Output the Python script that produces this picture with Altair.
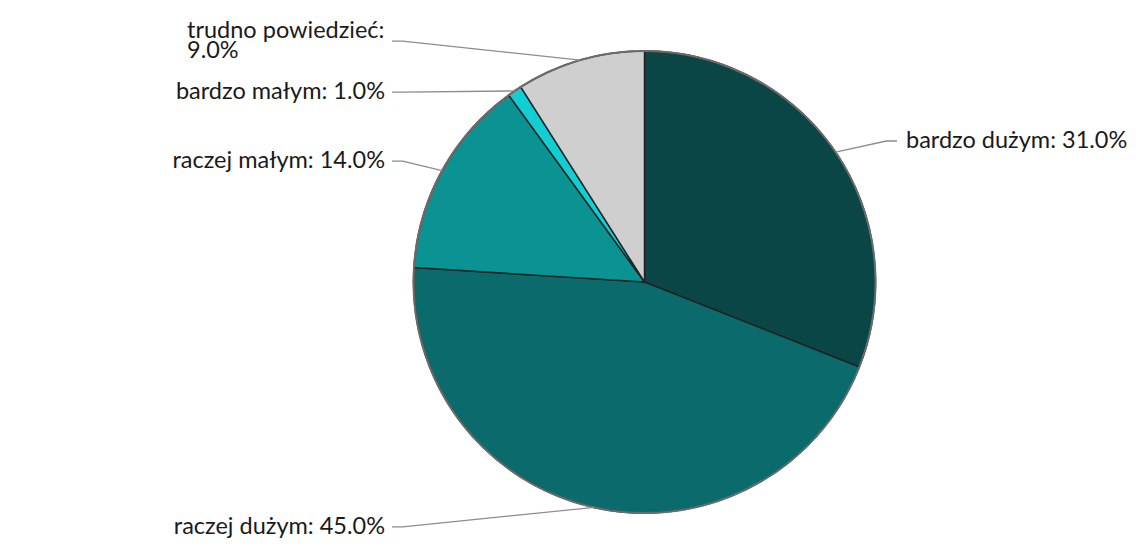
import math
import altair as alt
import pandas as pd

# ---- data ----
categories = ["bardzo dużym", "raczej dużym", "raczej małym", "bardzo małym", "trudno powiedzieć"]
values = [31.0, 45.0, 14.0, 1.0, 9.0]
colors = ["#0b4647", "#0b6b6c", "#0a9392", "#12cdd1", "#cfcfcf"]

# ---- layout parameters ----
W, H = 1120, 544
CX, CY = 636.5, 274.0      # pie centre inside the view (px)
R = 231.0                  # pie radius (px)
LABEL_R = 1.086            # label radius factor
ELBOW_X = 1.047
END_X = 1.093
LINE_PX = 17.0             # spacing unit for label collision
FONT = "Lato"
FS = 23.5
LH = 20

xs = alt.Scale(domain=[-CX / R, (W - CX) / R], nice=False, zero=False)
ys = alt.Scale(domain=[-(H - CY) / R, CY / R], nice=False, zero=False)

total = sum(values)
rows = []
cum = 0.0
for i, (c, v) in enumerate(zip(categories, values)):
    mid = (cum + v / 2) / total * 2 * math.pi
    cum += v
    px, py = math.sin(mid), math.cos(mid)
    side = -1 if px < 0 else 1
    text = f"{c}: {v:.1f}%"
    if len(text) > 20:
        text = f"{c}:\n{v:.1f}%"
    rows.append(dict(idx=i, cat=c, value=v, px=px, py=py, side=side,
                     ly=LABEL_R * py, label=text, lines=text.count("\n") + 1))

# simple collision resolution per side (top to bottom)
for s in (-1, 1):
    grp = sorted([r for r in rows if r["side"] == s], key=lambda r: -r["ly"])
    for a, b in zip(grp, grp[1:]):
        sep = (a["lines"] + b["lines"]) * LINE_PX / R
        if a["ly"] - b["ly"] < sep:
            b["ly"] = a["ly"] - sep

df = pd.DataFrame(rows)
df["tx"] = df["side"] * END_X

conn = []
for r in rows:
    conn.append(dict(cat=r["cat"], o=0, x=r["px"], y=r["py"]))
    conn.append(dict(cat=r["cat"], o=1, x=r["side"] * ELBOW_X, y=r["ly"]))
    conn.append(dict(cat=r["cat"], o=2, x=r["side"] * END_X, y=r["ly"]))
conn_df = pd.DataFrame(conn)

base = alt.Chart(df)

pie = base.mark_arc(radius=R, stroke="#1e2424", strokeWidth=1.5).encode(
    theta=alt.Theta("value:Q", stack=True),
    color=alt.Color("cat:N", scale=alt.Scale(domain=categories, range=colors), legend=None),
    order=alt.Order("idx:Q"),
    x=alt.XDatum(0, scale=xs, axis=None),
    y=alt.YDatum(0, scale=ys, axis=None),
)

outline = alt.Chart(pd.DataFrame({"k": [0]})).mark_arc(
    radius=R, theta=0, theta2=math.tau, fillOpacity=0, stroke="#6b6b6b", strokeWidth=2
).encode(
    x=alt.XDatum(0, scale=xs, axis=None),
    y=alt.YDatum(0, scale=ys, axis=None),
)

lines = alt.Chart(conn_df).mark_line(color="#8c8c8c", strokeWidth=1.3).encode(
    x=alt.X("x:Q", scale=xs, axis=None),
    y=alt.Y("y:Q", scale=ys, axis=None),
    detail="cat:N",
    order="o:Q",
)

txt_kw = dict(font=FONT, fontSize=FS, color="#1a1a1a", baseline="middle", lineBreak="\n", lineHeight=LH)
enc = dict(x=alt.X("tx:Q", scale=xs, axis=None), y=alt.Y("ly:Q", scale=ys, axis=None), text="label:N")

left1 = base.transform_filter("datum.side < 0 && datum.lines == 1").mark_text(
    align="right", dx=-7, **txt_kw).encode(**enc)
# wrapped label: block right-aligned near the connector, lines left-aligned
leftm = base.transform_filter("datum.side < 0 && datum.lines > 1").mark_text(
    align="left", dx=-205, dy=-LH / 2, **txt_kw).encode(**enc)
right = base.transform_filter("datum.side > 0").mark_text(
    align="left", dx=9, **txt_kw).encode(**enc)

chart = alt.layer(pie, outline, lines, left1, leftm, right).properties(
    width=W, height=H, autosize="none", padding=0
).configure_view(stroke=None)

chart.save("out.html", embed_options={"renderer": "svg", "actions": False})
